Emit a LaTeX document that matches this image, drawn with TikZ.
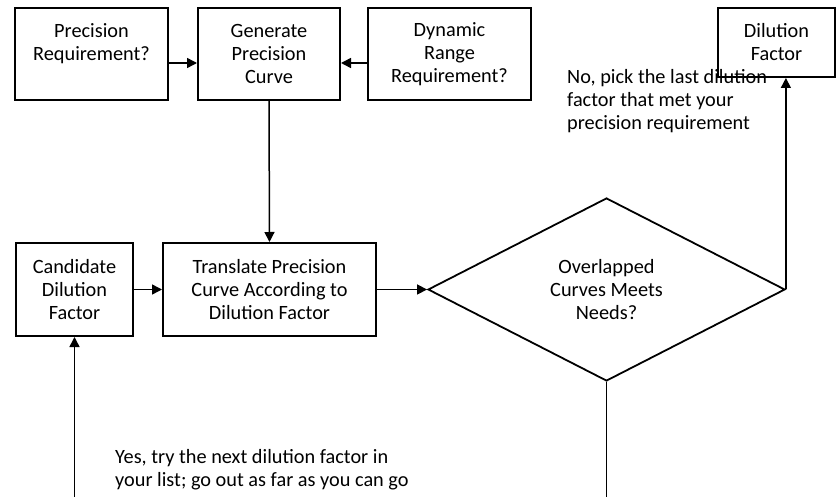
\documentclass[tikz,border=0pt]{standalone}
\usepackage{fontspec}
\setmainfont{Carlito}
\usetikzlibrary{shapes.geometric,arrows.meta}
\begin{document}
\begin{tikzpicture}[x=1pt,y=-1pt,
  every node/.style={font=\fontsize{20.3}{23}\selectfont},
  box/.style={draw,line width=2pt,rectangle,inner sep=0pt,align=center},
  dec/.style={draw,line width=1.8pt,diamond,inner sep=0pt,aspect=1.95,minimum width=357pt,minimum height=183pt,align=center},
  arr/.style={line width=1.5pt,-{Triangle[length=10pt,width=10pt]}},
  conn/.style={line width=1.5pt},
  lbl/.style={inner sep=0pt,align=left,anchor=north west}]
\useasboundingbox (0,0) rectangle (836,497);
\node[box,minimum width=153pt,minimum height=92pt] (preq) at (91.5,54) {Precision\\Requirement?\\\mbox{}};
\node[box,minimum width=142pt,minimum height=92pt] (gen) at (269,54) {Generate\\Precision\\Curve};
\node[box,minimum width=163pt,minimum height=92pt] (dyn) at (449.5,54) {Dynamic\\Range\\Requirement?};
\node[box,minimum width=117pt,minimum height=69pt] (dil) at (776.5,42.5) {Dilution\\Factor};
\node[box,minimum width=117pt,minimum height=93pt] (cand) at (74.5,289.5) {Candidate\\Dilution\\Factor};
\node[box,minimum width=213pt,minimum height=93pt] (trans) at (269.5,289.5) {Translate Precision\\Curve According to\\Dilution Factor};
\node[dec] (dia) at (606.5,289.5) {Overlapped\\Curves Meets\\Needs?};
\coordinate (bot1) at (606.5,497);
\coordinate (bot2) at (74.5,497);
\node[lbl] (nolbl) at (567,69) {No, pick the last dilution\\factor that met your\\precision requirement};
\node[lbl] (yeslbl) at (115,449) {Yes, try the next dilution factor in\\your list; go out as far as you can go};
\draw[arr] ([yshift=-9pt]preq.east) -- ([yshift=-9pt]gen.west);
\draw[arr] ([yshift=-9pt]dyn.west) -- ([yshift=-9pt]gen.east);
\draw[arr] (gen.south) -- (trans.north);
\draw[arr] (cand.east) -- (trans.west);
\draw[arr] (trans.east) -- (dia.west);
\draw[arr] (dia.east) -- (dia.east |- dil.south);
\draw[conn] (dia.south) -- (bot1);
\draw[arr] (bot2) -- (cand.south);
\end{tikzpicture}
\end{document}
